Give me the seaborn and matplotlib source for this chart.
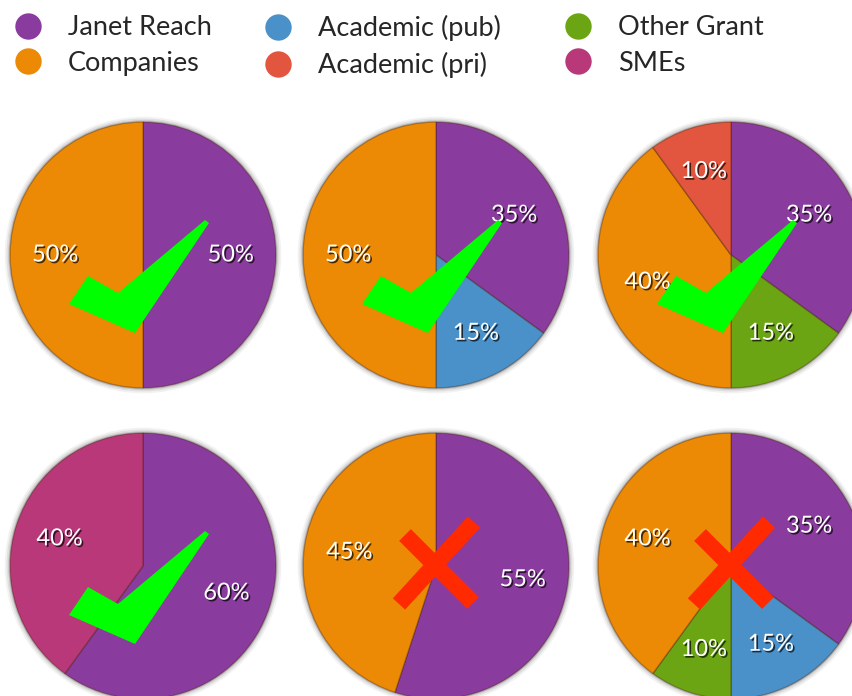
import matplotlib
matplotlib.use("Agg")
import matplotlib.pyplot as plt
import matplotlib.patheffects as pe
from matplotlib.patches import Polygon, Circle
from matplotlib.lines import Line2D
import seaborn as sns

sns.set_theme(style="white")
plt.rcParams['font.family'] = ['Lato', 'DejaVu Sans']

# ---- data ----
categories = ["Janet Reach", "Companies", "Academic (pub)", "Academic (pri)", "Other Grant", "SMEs"]
category_colors = ["#8a3b9e", "#ec8a05", "#4a90c9", "#e2553f", "#6ba514", "#b8387a"]

pie1_labels = ["Janet Reach", "Companies"]
pie1_values = [50, 50]
pie2_labels = ["Janet Reach", "Academic (pub)", "Companies"]
pie2_values = [35, 15, 50]
pie3_labels = ["Janet Reach", "Other Grant", "Companies", "Academic (pri)"]
pie3_values = [35, 15, 40, 10]
pie4_labels = ["Janet Reach", "SMEs"]
pie4_values = [60, 40]
pie5_labels = ["Janet Reach", "Companies"]
pie5_values = [55, 45]
pie6_labels = ["Janet Reach", "Academic (pub)", "Other Grant", "Companies"]
pie6_values = [35, 15, 10, 40]
pie_marks = ["check", "check", "check", "check", "cross", "cross"]

pies = [(pie1_labels, pie1_values), (pie2_labels, pie2_values), (pie3_labels, pie3_values),
        (pie4_labels, pie4_values), (pie5_labels, pie5_values), (pie6_labels, pie6_values)]
color_of = dict(zip(categories, category_colors))

# ---- layout (pixels) ----
W, H = 853, 696
R = 133
centers = [(143, 255), (436, 255), (731, 255), (143, 566), (436, 566), (731, 566)]

fig = plt.figure(figsize=(W / 100, H / 100), dpi=100)
fig.patch.set_facecolor("white")

check_px = [(-74, 49), (-55, 21), (-25, 38), (62, -35), (66, -32), (-8, 78)]
cross_px = [((-31, -31), (37, 37)), ((-37, 38), (38, -44))]

txt_fx = [pe.SimplePatchShadow(offset=(1.2, -1.2), shadow_rgbFace="black", alpha=0.7), pe.Normal()]

for (labels, values), (cx, cy), mark in zip(pies, centers, pie_marks):
    ax = fig.add_axes([(cx - R) / W, (H - cy - R) / H, 2 * R / W, 2 * R / H])
    # soft shadow around the pie
    for k, a in [(1.04, 0.05), (1.026, 0.08), (1.013, 0.13)]:
        ax.add_patch(Circle((0, 0), k, color="black", alpha=a, lw=0, zorder=0))
    wedges, texts = ax.pie(values, colors=[color_of[l] for l in labels], startangle=90,
                           counterclock=False, radius=1, labels=[f"{v}%" for v in values],
                           labeldistance=0.66,
                           wedgeprops=dict(edgecolor=(0.25, 0.1, 0.0, 0.35), linewidth=1.0),
                           textprops=dict(color="white", fontsize=17))
    ax.set_xlim(-1, 1)
    ax.set_ylim(-1, 1)
    ax.set_aspect("equal")
    ax.axis("off")
    for t in texts:
        t.set_path_effects(txt_fx)
        t.set_ha("center")
        t.set_va("center")
    for w in wedges:
        w.set_zorder(1)
    if mark == "check":
        pts = [(x / R, -y / R) for x, y in check_px]
        ax.add_patch(Polygon(pts, closed=True, facecolor="#00ff00", edgecolor="none", zorder=5))
    else:
        for (x0, y0), (x1, y1) in cross_px:
            ax.plot([x0 / R, x1 / R], [-y0 / R, -y1 / R], color="#ff2a00", lw=12,
                    solid_capstyle="butt", zorder=5)
    for art in ax.patches + ax.lines:
        art.set_clip_on(False)

handles = [Line2D([], [], marker="o", linestyle="none", markersize=19,
                  markerfacecolor=c, markeredgecolor="none") for c in category_colors]
col_x = [12, 262, 562]
for i, x in enumerate(col_x):
    fig.legend(handles[2 * i:2 * i + 2], categories[2 * i:2 * i + 2], loc="upper left",
               bbox_to_anchor=(x / W, 1 - 15 / H), frameon=False, fontsize=19.5,
               handletextpad=0.87, labelspacing=0.4, handlelength=1.2,
               borderaxespad=0, borderpad=0)

fig.savefig("out.png", dpi=100, facecolor="white")
